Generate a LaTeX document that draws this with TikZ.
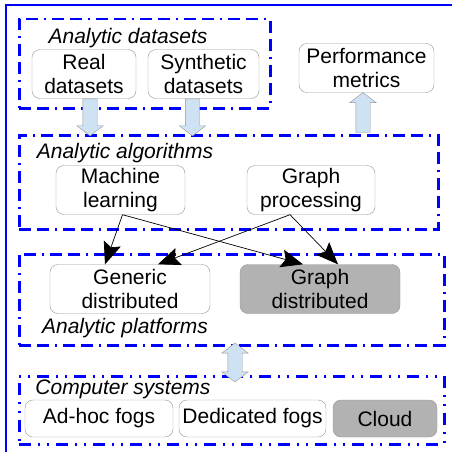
\documentclass[tikz,border=0pt]{standalone}
\usepackage{fontspec}
\setmainfont{Liberation Sans}
\definecolor{frameBlue}{RGB}{0, 0, 255}
\definecolor{boxGray}{RGB}{150, 150, 150}
\definecolor{fillGray}{RGB}{178, 178, 178}
\definecolor{arrowBlue}{RGB}{207, 226, 243}
\usepackage{tikz}
\usetikzlibrary{shapes,arrows,positioning,calc,arrows.meta}
\tikzset{
    conn/.style={-{Stealth[length=22pt,width=18pt,inset=4pt]},line width=0.7pt}
}

\begin{document}
\begin{tikzpicture}[x=1pt,y=-1pt,
    box/.style={draw=boxGray,rounded corners=8pt,fill=white,align=center,inner sep=0pt,
        font=\fontsize{21}{24}\selectfont,minimum height=49pt},
    groupbox/.style={draw=frameBlue,line width=2.5pt,anchor=north west,inner sep=0pt,
        dash pattern=on 12pt off 6pt on 12pt off 6pt on 2pt off 6pt},
    title/.style={font=\fontsize{21}{24}\selectfont\itshape,anchor=base},
    blockarrow/.style={single arrow,draw=boxGray,fill=arrowBlue,inner sep=7pt,
        single arrow head extend=6pt,single arrow tip angle=105,anchor=tail}]
    \clip (0,0) rectangle (452,452);
    \useasboundingbox (0,0) rectangle (452,452);

    % outer frame
    \draw[frameBlue,line width=2.5pt] (6,470) |- (470,5);

    % Groups
    \node[groupbox,minimum width=251pt,minimum height=89pt] (datasets) at (18,18) {};
    \node[groupbox,minimum width=419pt,minimum height=94pt] (algos) at (18,134) {};
    \node[groupbox,minimum width=425pt,minimum height=91pt] (platforms) at (18,253) {};
    \node[groupbox,minimum width=425pt,minimum height=68pt,
        dash pattern=on 12pt off 7pt on 2pt off 7pt on 2pt off 7pt] (systems) at (18,375) {};

    \node[title] (tdata) at (128,44) {Analytic datasets};
    \node[title] (talgo) at (125,158) {Analytic algorithms};
    \node[title] (tplat) at (125,333) {Analytic platforms};
    \node[title] (tsys) at (123,394) {Computer systems};

    % Boxes
    \node[box,minimum width=104pt] (real) at (84,74) {Real\\datasets};
    \node[box,minimum width=111pt] (synth) at (203.5,74) {Synthetic\\datasets};
    \node[box,minimum width=135pt] (perf) at (366.5,68) {Performance\\metrics};
    \node[box,minimum width=129pt] (ml) at (120.5,190) {Machine\\learning};
    \node[box,minimum width=128pt] (gp) at (311,190) {Graph\\processing};
    \node[box,minimum width=160pt] (gen) at (130,289) {Generic\\distributed};
    \node[box,minimum width=160pt,fill=fillGray] (gdist) at (320,289) {Graph\\distributed};
    \node[box,minimum width=148pt,minimum height=37pt] (adhoc) at (99,418.5) {Ad-hoc fogs};
    \node[box,minimum width=147pt,minimum height=37pt] (dedic) at (252.5,418.5) {Dedicated fogs};
    \node[box,minimum width=104pt,minimum height=37pt,fill=fillGray] (cloud) at (385,418.5) {Cloud};

    % Block arrows
    \node[blockarrow,rotate=-90,minimum height=37pt] (realarrow) at ([xshift=6pt]real.south) {};
    \node[blockarrow,rotate=-90,minimum height=37pt] (syntharrow) at ([xshift=-11pt]synth.south) {};
    \node[blockarrow,rotate=90,minimum height=40pt] (perfarrow) at ($(perf.south -| 363,0)+(0,40)$) {};
    \node[double arrow,draw=boxGray,fill=arrowBlue,inner sep=7pt,
        double arrow head extend=6pt,double arrow tip angle=105,rotate=90,
        minimum height=39pt] (platarrow) at (235,362.5) {};

    % Connectors
    \draw[conn] ([xshift=2pt]ml.south) -- ([xshift=-25pt]gen.north);
    \draw[conn] ([xshift=2pt]ml.south) -- ([xshift=-17pt]gdist.north);
    \draw[conn] ([xshift=-21pt]gp.south) -- ([xshift=28pt]gen.north);
    \draw[conn] ([xshift=-21pt]gp.south) -- ([xshift=18pt]gdist.north);
\end{tikzpicture}
\end{document}
